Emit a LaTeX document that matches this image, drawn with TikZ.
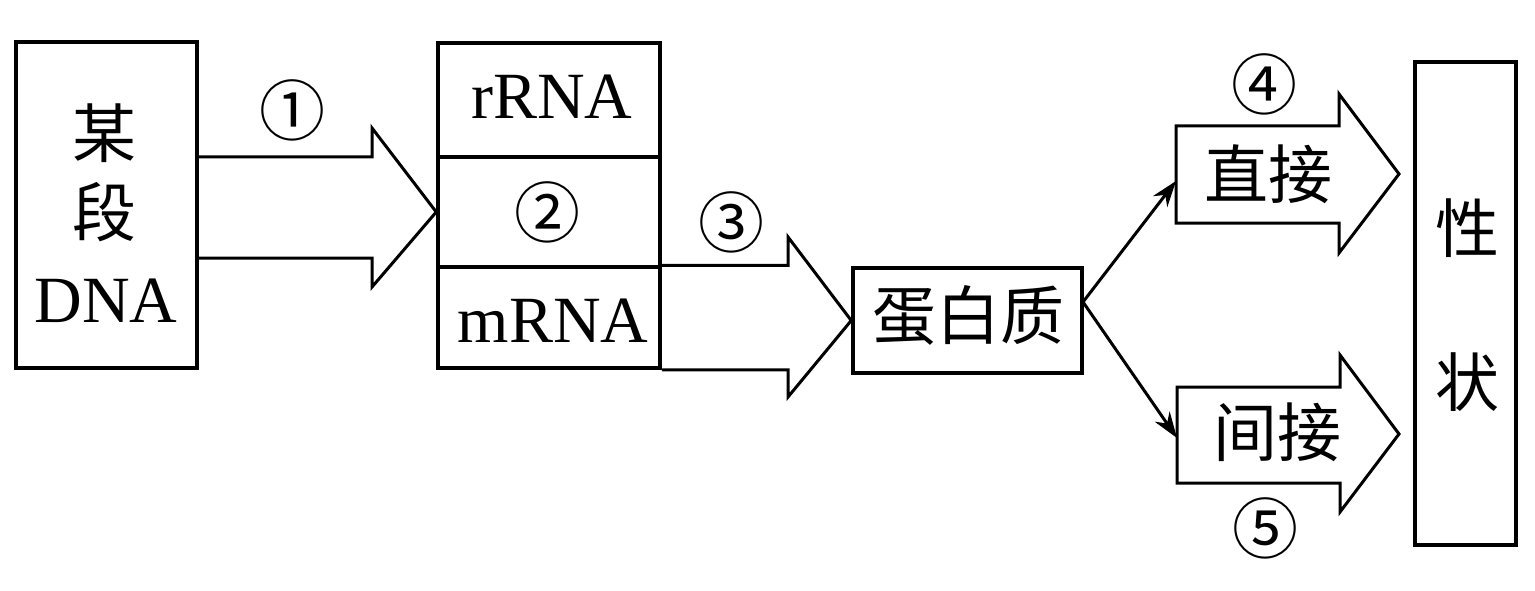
\documentclass[tikz,border=0pt]{standalone}
\usepackage{fontspec}
\setmainfont{Liberation Serif}
\newfontfamily\cjk{Noto Sans CJK SC}
\usetikzlibrary{arrows.meta}
\begin{document}
\begin{tikzpicture}[x=1pt,y=-1pt,
  box/.style={draw, line width=3.5pt, inner sep=0pt},
  blk/.style={draw, line width=3pt, line join=miter},
  lat/.style={font=\fontsize{66}{70}\selectfont, inner sep=0pt},
  han/.style={font=\cjk\fontsize{64}{70}\selectfont, inner sep=0pt},
  num/.style={font=\cjk\fontsize{66}{70}\selectfont, inner sep=0pt},
  conn/.style={line width=3pt, -{Stealth[length=26pt,width=18pt]}}]
\useasboundingbox (0,0) rectangle (1535,591);
% DNA box
\node[box, minimum width=181pt, minimum height=326pt] (dna) at (106.5,205) {};
\node[han] (mou) at (104,133) {某};
\node[han] (duan) at (104,212) {段};
\node[lat] (dnat) at (106,301) {DNA};
% stacked box
\node[box, minimum width=222pt, minimum height=114pt] (rr) at (549,100) {};
\node[box, minimum width=222pt, minimum height=110pt] (mid) at (549,212) {};
\node[box, minimum width=222pt, minimum height=101pt] (mr) at (549,317.5) {};
\node[lat] (rrt) at (552,97) {rRNA};
\node[num] (n2) at (547,212) {②};
\node[lat] (mrt) at (553,320.5) {mRNA};
% arrow 1
\draw[blk] (dna.east |- 0,157) -- (372,157) -- (372,128) -- (mid.west) -- (372,287) -- (372,258) -- (dna.east |- 0,258);
\node[num] (n1) at (292,110) {①};
% protein
\node[box, minimum width=229pt, minimum height=105pt] (pro) at (967.5,320.5) {};
\node[han] (prot) at (968,315) {蛋白质};
% arrow 3
\draw[blk] (mr.north east) -- (788,0 |- mr.north east) -- (788,237) -- (pro.west) -- (788,397) -- (788,0 |- mr.south east) -- (mr.south east);
\node[num] (n3) at (731,222) {③};
% direct / indirect block arrows
\draw[blk] (1176,126) -- (1339,126) -- (1339,94) -- (1399,174) -- (1339,253) -- (1339,223) -- (1176,223) -- cycle;
\coordinate (zjw) at (1176,181);
\node[han] (zjt) at (1268,174) {直接};
\node[num] (n4) at (1264,84) {④};
\draw[blk] (1177,387) -- (1340,387) -- (1340,355) -- (1399,434) -- (1340,512) -- (1340,483) -- (1177,483) -- cycle;
\coordinate (jjw) at (1177,438);
\node[han] (jjt) at (1277,432) {间接};
\node[num] (n5) at (1265,528) {⑤};
% connectors
\coordinate (pe) at (1083,302);
\draw[conn] (pe) -- (zjw);
\draw[conn] (pe) -- (jjw);
% trait box
\node[box, minimum width=101pt, minimum height=483pt] (xz) at (1465.5,303.5) {};
\node[han] (xing) at (1467,228) {性};
\node[han] (zhuang) at (1467,382) {状};
\end{tikzpicture}
\end{document}
